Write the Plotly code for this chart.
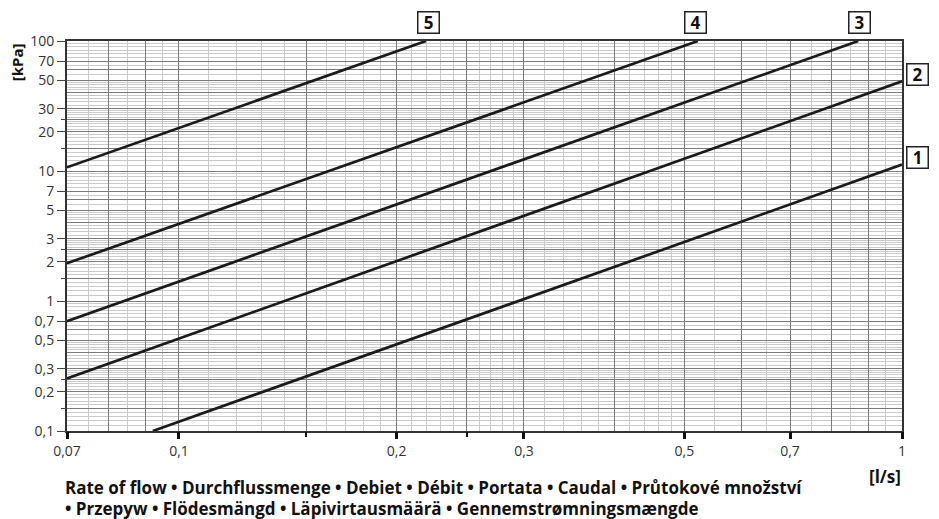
import plotly.graph_objects as go

# ---- data (flow l/s, pressure loss kPa) ----
flow_1 = [0.092, 1.0]
dp_1 = [0.1, 11.2]
flow_2 = [0.07, 1.0]
dp_2 = [0.254, 49.0]
flow_3 = [0.07, 0.87]
dp_3 = [0.70, 100.0]
flow_4 = [0.07, 0.522]
dp_4 = [1.95, 100.0]
flow_5 = [0.07, 0.2196]
dp_5 = [10.67, 100.0]

curve_labels = ["1", "2", "3", "4", "5"]

# ---- tick labels ----
x_tickvals = [0.07, 0.1, 0.2, 0.3, 0.5, 0.7, 1]
x_ticktext = ["0,07", "0,1", "0,2", "0,3", "0,5", "0,7", "1"]
x_minor_ticks = [0.15, 0.25]

y_tickvals = [0.1, 0.2, 0.3, 0.5, 0.7, 1, 2, 3, 5, 7, 10, 20, 30, 50, 70, 100]
y_ticktext = ["0,1", "0,2", "0,3", "0,5", "0,7", "1", "2", "3", "5", "7",
              "10", "20", "30", "50", "70", "100"]
y_minor_ticks = [0.15, 0.25, 1.5, 2.5, 15, 25]

# ---- grid positions ----
x_dark = [0.08, 0.09, 0.1, 0.15, 0.2, 0.25, 0.3, 0.4, 0.5, 0.6, 0.7, 0.8, 0.9]
x_light = [0.075, 0.085, 0.095,
           0.11, 0.12, 0.13, 0.14, 0.16, 0.17, 0.18, 0.19,
           0.21, 0.22, 0.23, 0.24, 0.26, 0.27, 0.28, 0.29,
           0.32, 0.34, 0.36, 0.38, 0.42, 0.44, 0.46, 0.48,
           0.55, 0.65, 0.75, 0.85, 0.95]

y_dark_m = [1, 1.5, 2, 2.5, 3, 4, 5, 6, 7]
y_light_m = [1.1, 1.2, 1.3, 1.4, 1.6, 1.7, 1.8, 1.9,
             2.1, 2.2, 2.3, 2.4, 2.6, 2.7, 2.8, 2.9,
             3.2, 3.4, 3.6, 3.8, 4.2, 4.4, 4.6, 4.8,
             5.5, 6.5, 7.5, 8, 8.5, 9, 9.5]
decades = [0.1, 1, 10]
y_dark = [round(m * d, 6) for d in decades for m in y_dark_m]
y_light = [round(m * d, 6) for d in decades for m in y_light_m]

FONT = "Open Sans"
LINE_COLOR = "#1a1a1a"
DARK_GRID = "#7a7a7a"
LIGHT_GRID = "#cacaca"
FRAME = "#333333"

fig = go.Figure()

series = [(flow_1, dp_1), (flow_2, dp_2), (flow_3, dp_3), (flow_4, dp_4), (flow_5, dp_5)]
for (q, p), name in zip(series, curve_labels):
    fig.add_trace(go.Scatter(x=q, y=p, mode="lines", name=name,
                             line=dict(color=LINE_COLOR, width=2.7),
                             showlegend=False, hoverinfo="skip"))

# empty trace to carry the labelled overlay axes
fig.add_trace(go.Scatter(x=[], y=[], xaxis="x2", yaxis="y2", showlegend=False))

xr = [-1.15490196, 0]
yr = [-1, 2]

fig.update_layout(
    width=931, height=511,
    margin=dict(l=59, r=37, t=33, b=88),
    paper_bgcolor="white", plot_bgcolor="white",
    font=dict(family=FONT, size=14, color="#333333"),
    xaxis=dict(type="log", range=xr, tickmode="array", tickvals=x_dark,
               showticklabels=False, ticks="", showgrid=True,
               gridcolor=DARK_GRID, gridwidth=1,
               minor=dict(tickmode="array", tickvals=x_light, showgrid=True,
                          gridcolor=LIGHT_GRID, gridwidth=1, ticks=""),
               showline=True, mirror=True, linecolor=FRAME, linewidth=1.8,
               zeroline=False),
    yaxis=dict(type="log", range=yr, tickmode="array", tickvals=y_dark,
               showticklabels=False, ticks="", showgrid=True,
               gridcolor=DARK_GRID, gridwidth=1,
               minor=dict(tickmode="array", tickvals=y_light, showgrid=True,
                          gridcolor=LIGHT_GRID, gridwidth=1, ticks=""),
               showline=True, mirror=True, linecolor=FRAME, linewidth=1.8,
               zeroline=False),
    xaxis2=dict(type="log", range=xr, overlaying="x", anchor="y2", side="bottom",
                tickmode="array", tickvals=x_tickvals, ticktext=x_ticktext,
                ticks="outside", ticklen=7, tickwidth=2.6, tickcolor="#111111",
                tickfont=dict(family=FONT, size=14, color="#333333"),
                minor=dict(tickmode="array", tickvals=x_minor_ticks,
                           ticks="outside", ticklen=5, tickwidth=1.5,
                           tickcolor="#111111", showgrid=False),
                showgrid=False, showline=False, zeroline=False),
    yaxis2=dict(type="log", range=yr, overlaying="y", anchor="x2", side="left",
                tickmode="array", tickvals=y_tickvals, ticktext=y_ticktext,
                ticks="outside", ticklen=9, tickwidth=1, tickcolor="#444444",
                tickfont=dict(family=FONT, size=14, color="#333333"),
                minor=dict(tickmode="array", tickvals=y_minor_ticks,
                           ticks="outside", ticklen=5, tickwidth=1,
                           tickcolor="#444444", showgrid=False),
                showgrid=False, showline=False, zeroline=False),
)

# curve number boxes
box_pos = {"5": (0.4329, 1.0479), "4": (0.7527, 1.0479), "3": (0.9497, 1.0479),
           "2": (1.018, 0.9133), "1": (1.018, 0.7005)}
for lab in curve_labels:
    bx, by = box_pos[lab]
    fig.add_annotation(x=bx, y=by, xref="paper", yref="paper", text="<b>%s</b>" % lab,
                       showarrow=False, xanchor="center", yanchor="middle",
                       font=dict(family=FONT, size=17, color="#111111"),
                       bordercolor="#222222", borderwidth=1.5, borderpad=2,
                       width=16, height=16, bgcolor="white")

fig.add_annotation(x=-0.0599, y=0.9454, xref="paper", yref="paper", text="<b>[kPa]</b>",
                   textangle=-90, showarrow=False, xanchor="center", yanchor="middle",
                   font=dict(family=FONT, size=15, color="#111111"))
fig.add_annotation(x=1.0012, y=-0.116, xref="paper", yref="paper", text="<b>[l/s]</b>",
                   showarrow=False, xanchor="right", yanchor="middle",
                   font=dict(family=FONT, size=17, color="#111111"))
fig.add_annotation(x=-0.0048, y=-0.1444, xref="paper", yref="paper",
                   text="<b>Rate of flow • Durchflussmenge • Debiet • Débit • Portata • Caudal • Průtokové množství</b>",
                   showarrow=False, xanchor="left", yanchor="middle",
                   font=dict(family=FONT, size=17, color="#111111"))
fig.add_annotation(x=-0.0048, y=-0.1984, xref="paper", yref="paper",
                   text="<b>• Przepyw • Flödesmängd • Läpivirtausmäärä • Gennemstrømningsmængde</b>",
                   showarrow=False, xanchor="left", yanchor="middle",
                   font=dict(family=FONT, size=17, color="#111111"))

fig.write_html("out.html")
